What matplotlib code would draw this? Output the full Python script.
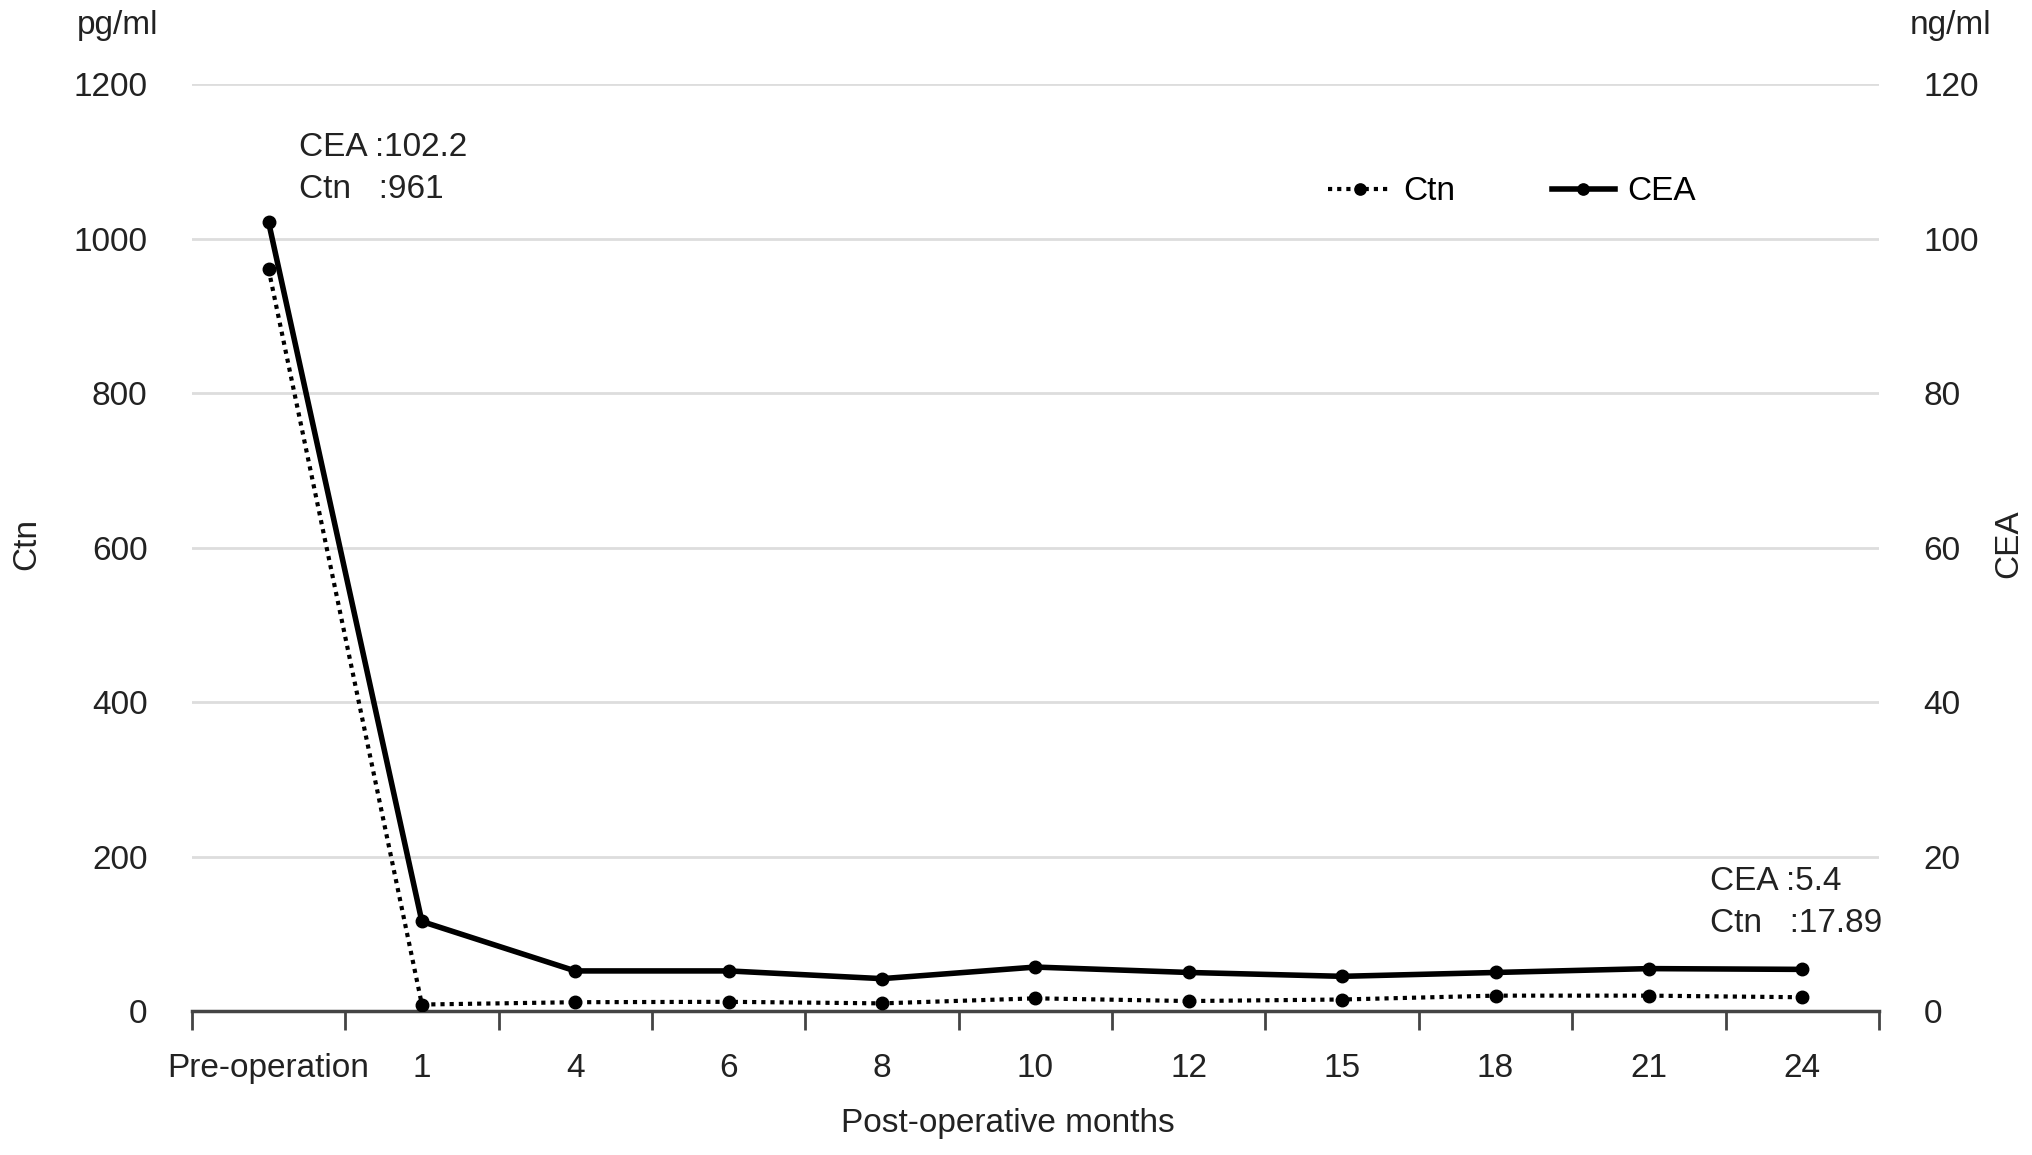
import matplotlib
matplotlib.use('Agg')
from matplotlib import pyplot as plt
import numpy as np

plt.rcParams['font.family'] = ['Liberation Sans', 'DejaVu Sans']

months = ['Pre-operation', '1', '4', '6', '8', '10', '12', '15', '18', '21', '24']
ctn = [961, 8.5, 11.5, 12, 10, 16.5, 13, 15, 20, 20, 17.89]
cea = [102.2, 11.6, 5.2, 5.2, 4.2, 5.7, 5.0, 4.5, 5.0, 5.5, 5.4]

fs = 24
x = np.arange(len(months))

fig = plt.figure(figsize=(20.32, 11.55), dpi=100)
ax = fig.add_axes([0.0944, 0.1246, 0.8303, 0.8024])
ax2 = ax.twinx()

l1, = ax.plot(x, ctn, color='black', linestyle=(0, (1, 1.2)), linewidth=3,
              marker='o', markersize=9, label='Ctn', zorder=3)
l2, = ax2.plot(x, cea, color='black', linestyle='-', linewidth=4,
               marker='o', markersize=9, label='CEA', zorder=3)

ax.set_ylim(0, 1200)
ax2.set_ylim(0, 120)
ax.set_xlim(-0.5, len(months) - 0.5)

ax.set_yticks(np.arange(0, 1201, 200))
ax2.set_yticks(np.arange(0, 121, 20))
for g in range(200, 1201, 200):
    ax.axhline(g, color='#dddddd', linewidth=2, zorder=0)

ax.set_xticks(x)
ax.set_xticklabels(months)
ax.set_xticks(np.arange(-0.5, len(months), 1), minor=True)
ax.tick_params(axis='x', which='major', length=0, pad=30, labelsize=fs, colors='#222222')
ax.tick_params(axis='x', which='minor', length=14, width=2, color='#444444', direction='out')
ax.tick_params(axis='y', length=0, pad=32, labelsize=fs, colors='#222222')
ax2.tick_params(axis='y', length=0, pad=32, labelsize=fs, colors='#222222')

for a in (ax, ax2):
    for s in ('left', 'right', 'top'):
        a.spines[s].set_visible(False)
ax2.spines['bottom'].set_visible(False)
ax.spines['bottom'].set_color('#444444')
ax.spines['bottom'].set_linewidth(2.5)

fig.text(0.058, 0.978, 'pg/ml', fontsize=fs, ha='center', va='center', color='#222222')
fig.text(0.960, 0.978, 'ng/ml', fontsize=fs, ha='center', va='center', color='#222222')
fig.text(0.013, 0.529, 'Ctn', fontsize=fs, rotation=90, ha='center', va='center', color='#222222')
fig.text(0.9885, 0.529, 'CEA', fontsize=fs, rotation=90, ha='center', va='center', color='#222222')
fig.text(0.496, 0.027, 'Post-operative months', fontsize=fs, ha='center', va='center', color='#222222')

ax.text(0.2, 1118, 'CEA :102.2', fontsize=fs, ha='left', va='center', color='#222222')
ax.text(0.2, 1064, 'Ctn   :961', fontsize=fs, ha='left', va='center', color='#222222')
ax.text(9.4, 168, 'CEA :5.4', fontsize=fs, ha='left', va='center', color='#222222')
ax.text(9.4, 114, 'Ctn   :17.89', fontsize=fs, ha='left', va='center', color='#222222')

leg = fig.legend(handles=[l1, l2], loc='center', bbox_to_anchor=(0.744, 0.834), ncol=2,
                 frameon=False, fontsize=fs, handlelength=1.9, handletextpad=0.35,
                 columnspacing=2.9, markerscale=0.9)

fig.savefig('out.png', dpi=100)
